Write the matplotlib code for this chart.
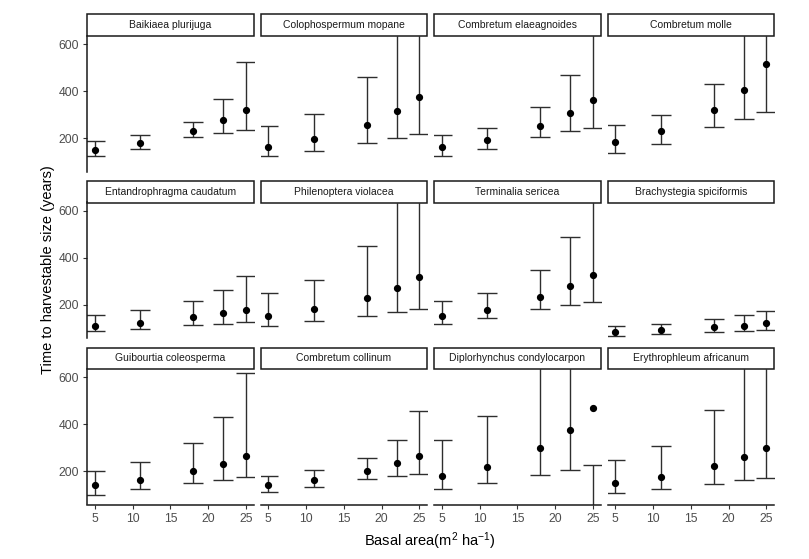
import numpy as np
import matplotlib.pyplot as plt
from matplotlib.patches import Rectangle

plt.rcParams['font.family'] = ['Liberation Sans', 'DejaVu Sans']
plt.rcParams['mathtext.fontset'] = 'custom'
plt.rcParams['mathtext.rm'] = 'Liberation Sans'
plt.rcParams['mathtext.it'] = 'Liberation Sans:italic'

# basal area classes (m2/ha)
basal = [5, 11, 18, 22, 25]

species = [
    'Baikiaea plurijuga', 'Colophospermum mopane', 'Combretum elaeagnoides', 'Combretum molle',
    'Entandrophragma caudatum', 'Philenoptera violacea', 'Terminalia sericea', 'Brachystegia spiciformis',
    'Guibourtia coleosperma', 'Combretum collinum', 'Diplorhynchus condylocarpon', 'Erythrophleum africanum',
]

# time to harvestable size (years): estimate, lower and upper limit
mid = [
    [151, 180, 231, 278, 320],
    [164, 197, 255, 314, 375],
    [164, 193, 252, 307, 362],
    [185, 231, 320, 404, 514],
    [111, 124, 146, 163, 179],
    [151, 180, 230, 272, 318],
    [153, 179, 234, 280, 327],
    [83, 91, 104, 111, 121],
    [141, 162, 200, 232, 266],
    [141, 162, 200, 234, 263],
    [178, 220, 300, 376, 469],
    [149, 174, 221, 259, 297],
]
lower = [
    [123, 155, 206, 224, 235],
    [123, 147, 180, 201, 219],
    [123, 155, 206, 231, 244],
    [138, 176, 248, 282, 311],
    [87, 96, 113, 117, 125],
    [108, 130, 151, 168, 180],
    [117, 142, 180, 197, 210],
    [66, 75, 83, 87, 91],
    [101, 124, 149, 162, 175],
    [111, 134, 166, 179, 187],
    [125, 149, 183, 204, 20],
    [107, 124, 145, 162, 170],
]
upper = [
    [187, 214, 269, 366, 524],
    [251, 301, 458, 720, 760],
    [214, 244, 333, 468, 700],
    [255, 297, 430, 760, 900],
    [155, 176, 218, 263, 322],
    [248, 306, 451, 700, 760],
    [214, 248, 348, 487, 700],
    [108, 117, 138, 155, 172],
    [203, 238, 318, 431, 617],
    [179, 204, 258, 334, 456],
    [334, 435, 700, 800, 225],
    [246, 308, 460, 720, 780],
]

W, H = 809, 559
col_left = [87.3, 260.7, 434.3, 607.7]
row_top = [36, 202.5, 369]
panel_w, panel_h, strip_h = 166.3, 135.5, 21.5
bar_col = '#2e2e2e'

fig = plt.figure(figsize=(W / 100, H / 100), dpi=100)

for i, name in enumerate(species):
    r, c = divmod(i, 4)
    ax = fig.add_axes([col_left[c] / W, 1 - (row_top[r] + panel_h) / H, panel_w / W, panel_h / H])
    # error bars: vertical line plus caps at both ends
    ax.vlines(basal, lower[i], upper[i], color=bar_col, linewidth=1.0)
    ax.plot(basal, lower[i], linestyle='none', marker='_', markersize=15, mew=1.0, color=bar_col)
    ax.plot(basal, upper[i], linestyle='none', marker='_', markersize=15, mew=1.0, color=bar_col)
    ax.plot(basal, mid[i], 'o', color='black', markersize=4.2)
    ax.set_xlim(4, 26)
    ax.set_ylim(59, 634)
    ax.set_xticks([5, 10, 15, 20, 25])
    ax.set_yticks([200, 400, 600])
    for s in ['top', 'right']:
        ax.spines[s].set_visible(False)
    for s in ['left', 'bottom']:
        ax.spines[s].set_linewidth(1.1)
        ax.spines[s].set_color('#1a1a1a')
    ax.tick_params(length=3, width=0.8, color='#333333', labelcolor='#4d4d4d',
                   labelsize=8.8, pad=3)
    if c > 0:
        ax.spines['left'].set_visible(False)
        ax.tick_params(left=False, labelleft=False)
    if r < 2:
        ax.spines['bottom'].set_visible(False)
        ax.tick_params(bottom=False, labelbottom=False)
    sh = strip_h / panel_h
    ax.add_patch(Rectangle((0, 1), 1, sh, transform=ax.transAxes, clip_on=False,
                           facecolor='white', edgecolor='#1a1a1a', linewidth=1.1))
    ax.text(0.5, 1 + sh / 2, name, transform=ax.transAxes, ha='center', va='center',
            fontsize=7.5, color='#1a1a1a')

fig.text(430 / W, 1 - 541.5 / H, 'Basal area(m$^2$ ha$^{-1}$)', ha='center', va='center', fontsize=10.5)
fig.text(48 / W, 1 - 270 / H, 'Time to harvestable size (years)', rotation=90,
         ha='center', va='center', fontsize=10.5)

fig.savefig('out.png', dpi=100)
